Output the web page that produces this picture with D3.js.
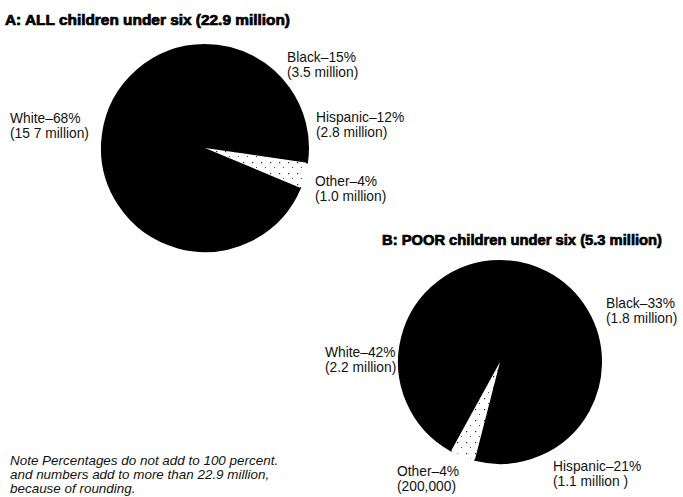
<!DOCTYPE html>
<html>
<head>
<meta charset="utf-8">
<script src="https://cdn.jsdelivr.net/npm/d3@7"></script>
<style>
  body { margin: 0; background: #fff; }
  svg { display: block; }
</style>
</head>
<body>
<div id="chart"></div>
<script>
// Data
const groups = ['Black', 'Hispanic', 'Other', 'White'];

const pctAll = [15, 12, 4, 68];
const countAll = ['3.5 million', '2.8 million', '1.0 million', '15 7 million'];

const pctPoor = [33, 21, 4, 42];
const countPoor = ['1.8 million', '1.1 million ', '200,000', '2.2 million'];

const titleAll = 'A: ALL children under six (22.9 million)';
const titlePoor = 'B: POOR children under six (5.3 million)';
const noteLines = [
    'Note  Percentages do not add to 100 percent.',
    'and numbers add to more than 22.9 million,',
    'because of rounding.'
];

// Layout
const width = 683, height = 497;
const labelFont = '"Liberation Sans", Arial, sans-serif';
const titleFont = '"Liberation Sans", Arial, sans-serif';
const squeeze = 0.92;   // the original type is a condensed face

const svg = d3.select('#chart').append('svg')
    .attr('width', width)
    .attr('height', height);

// speckled fill for the "Other" slice
const defs = svg.append('defs');
const pat = defs.append('pattern')
    .attr('id', 'speckle')
    .attr('patternUnits', 'userSpaceOnUse')
    .attr('width', 9).attr('height', 11);
pat.append('rect').attr('width', 9).attr('height', 11).attr('fill', '#fff');
pat.append('rect').attr('x', 2).attr('y', 3).attr('width', 1.2).attr('height', 1.2).attr('fill', '#222');
pat.append('rect').attr('x', 6).attr('y', 8).attr('width', 1).attr('height', 1).attr('fill', '#444');

const pie = d3.pie().sort(null).value(d => d.pct);

function drawPie(cfg) {
    const data = groups.map((g, i) => ({ group: g, pct: cfg.pct[i], count: cfg.count[i] }));
    const arc = d3.arc().innerRadius(0).outerRadius(cfg.r);

    const g = svg.append('g')
        .attr('transform', `translate(${cfg.cx},${cfg.cy})`);

    const slices = g.selectAll('path')
        .data(pie(data))
        .join('path')
            .attr('d', arc)
            .attr('fill', d => d.data.group === 'Other' ? 'url(#speckle)' : '#000')
            .attr('stroke', d => d.data.group === 'Other' ? 'none' : '#000')
            .attr('stroke-width', 2)
            .attr('stroke-linejoin', 'round');
    // keep the white wedge on top of the black strokes
    slices.filter(d => d.data.group === 'Other').raise();

    // labels, two lines each
    const lab = g.selectAll('.lab')
        .data(data)
        .join('text')
            .attr('class', 'lab')
            .attr('font-family', labelFont)
            .attr('font-size', '15px')
            .attr('fill', '#111')
            .attr('transform', d => `translate(${cfg.labelPos[d.group][0]},${cfg.labelPos[d.group][1]}) scale(${squeeze},1)`);
    lab.append('tspan')
        .attr('x', 0).attr('y', 0)
        .text(d => `${d.group}\u2013${d.pct}%`);
    lab.append('tspan')
        .attr('x', 0).attr('y', 15.5)
        .text(d => `(${d.count})`);

    svg.append('text')
        .attr('x', cfg.titleX)
        .attr('y', cfg.titleY)
        .attr('font-family', titleFont)
        .attr('font-weight', 'bold')
        .attr('font-size', '14px')
        .attr('stroke', '#000')
        .attr('stroke-width', 0.7)
        .attr('textLength', cfg.titleW)
        .attr('lengthAdjust', 'spacingAndGlyphs')
        .attr('fill', '#000')
        .text(cfg.title);
}

drawPie({
    cx: 205, cy: 148, r: 103,
    pct: pctAll, count: countAll,
    title: titleAll, titleX: 5, titleY: 25, titleW: 285,
    labelPos: {
        Black: [82, -86],
        Hispanic: [111, -26],
        Other: [110, 38],
        White: [-195, -25]
    }
});

drawPie({
    cx: 500, cy: 362, r: 101,
    pct: pctPoor, count: countPoor,
    title: titlePoor, titleX: 382, titleY: 245, titleW: 280,
    labelPos: {
        Black: [106, -54],
        Hispanic: [53, 109],
        Other: [-103, 114],
        White: [-175, -5]
    }
});

// footnote
svg.append('g')
    .attr('transform', `translate(10,0) scale(1.12,1)`)
    .selectAll('text')
    .data(noteLines)
    .join('text')
        .attr('x', 0)
        .attr('y', (d, i) => 465 + i * 14)
        .attr('font-family', labelFont)
        .attr('font-style', 'italic')
        .attr('font-size', '12px')
        .attr('fill', '#111')
        .text(d => d);
</script>
</body>
</html>
